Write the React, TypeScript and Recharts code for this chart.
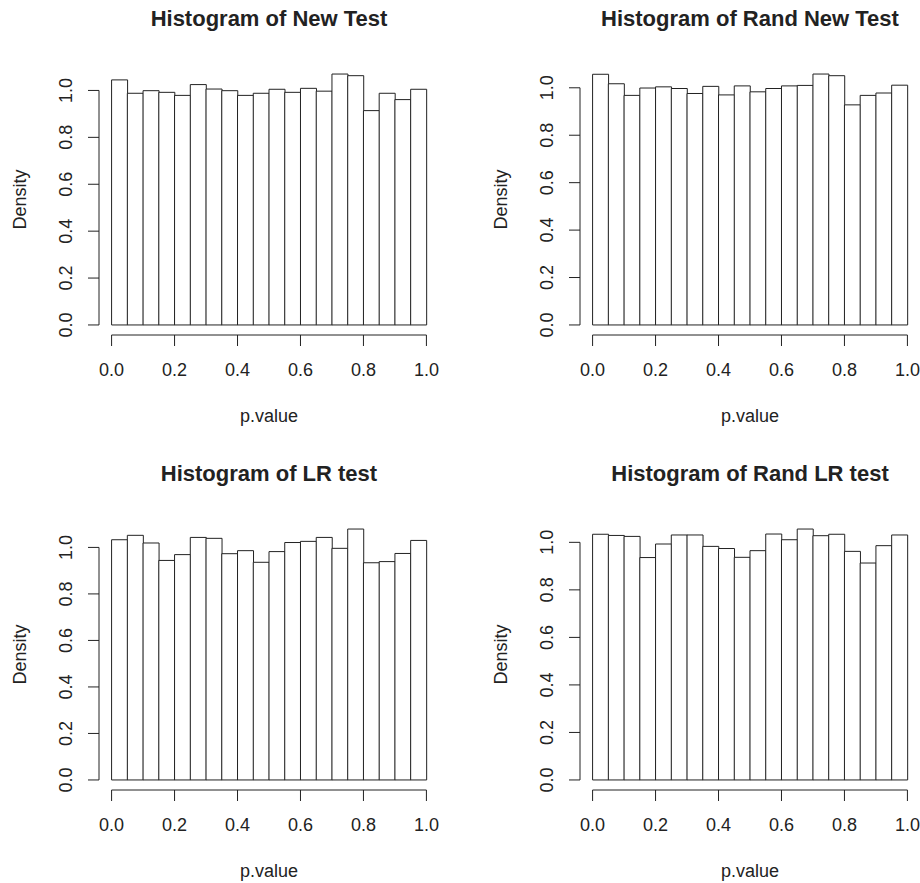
import { BarChart, Bar, XAxis, YAxis, ReferenceLine } from 'recharts';

// histogram bins (left edges, width 0.05)
const binStarts = [0, 0.05, 0.1, 0.15, 0.2, 0.25, 0.3, 0.35, 0.4, 0.45, 0.5, 0.55, 0.6, 0.65, 0.7, 0.75, 0.8, 0.85, 0.9, 0.95];
const binWidth = 0.05;
const xTicks = [0, 0.2, 0.4, 0.6, 0.8, 1];
const yTicks = [0, 0.2, 0.4, 0.6, 0.8, 1];

const newTest = [1.045, 0.988, 0.999, 0.992, 0.979, 1.025, 1.006, 0.999, 0.979, 0.988, 1.005, 0.992, 1.009, 0.997, 1.07, 1.063, 0.914, 0.988, 0.961, 1.005];
const randNewTest = [1.057, 1.017, 0.968, 0.999, 1.004, 0.997, 0.976, 1.006, 0.97, 1.008, 0.983, 0.997, 1.008, 1.01, 1.058, 1.051, 0.928, 0.968, 0.978, 1.011];
const lrTest = [1.033, 1.052, 1.019, 0.944, 0.969, 1.043, 1.039, 0.973, 0.986, 0.936, 0.982, 1.021, 1.026, 1.043, 0.996, 1.079, 0.934, 0.939, 0.974, 1.03];
const randLrTest = [1.034, 1.029, 1.025, 0.936, 0.993, 1.031, 1.031, 0.983, 0.974, 0.937, 0.965, 1.035, 1.011, 1.056, 1.028, 1.034, 0.962, 0.913, 0.986, 1.031];

const panels = [
  { title: 'Histogram of New Test', values: newTest },
  { title: 'Histogram of Rand New Test', values: randNewTest },
  { title: 'Histogram of LR test', values: lrTest },
  { title: 'Histogram of Rand LR test', values: randLrTest },
];

const W = 481;
const H = 455;
const M_TOP = 64;
const M_RIGHT = 42;
const Y_W = 99;
const X_H = 120;
const PLOT_W = W - M_RIGHT - Y_W;
const PAD = (PLOT_W * 0.04) / 1.08;
const MID_X = Y_W + PLOT_W / 2;
const MID_Y = M_TOP + (H - X_H - M_TOP) / 2;

const INK = '#222';
const FONT = '"Liberation Sans", Arial, Helvetica, sans-serif';

function XTick(props: any) {
  const { x, y, payload } = props;
  return (
    <text x={x} y={y + 28} textAnchor="middle" fontSize={18} fill={INK} fontFamily={FONT}>
      {Number(payload.value).toFixed(1)}
    </text>
  );
}

function YTick(props: any) {
  const { x, y, payload } = props;
  const tx = x - 14;
  return (
    <text x={tx} y={y} transform={`rotate(-90 ${tx} ${y})`} textAnchor="middle" fontSize={18} fill={INK} fontFamily={FONT}>
      {Number(payload.value).toFixed(1)}
    </text>
  );
}

function Histogram({ title, values }: { title: string; values: number[] }) {
  const data = binStarts.map((b, i) => ({ bin: String(b), mid: b + binWidth / 2, density: values[i] }));
  const top = Math.max(...values);
  const yMin = -0.04 * top;
  return (
    <div style={{ position: 'relative', width: W, height: H }}>
      <BarChart
        width={W}
        height={H}
        data={data}
        margin={{ top: M_TOP, right: M_RIGHT, left: 0, bottom: 0 }}
        barCategoryGap={0}
        barGap={0}
      >
        <XAxis
          xAxisId={0}
          type="number"
          dataKey="mid"
          domain={[-0.04, 1.04]}
          allowDataOverflow
          ticks={xTicks}
          axisLine={false}
          tickLine={{ stroke: INK }}
          tickSize={11}
          tick={<XTick />}
          height={X_H}
        />
        <XAxis xAxisId="bins" type="category" dataKey="bin" hide padding={{ left: PAD, right: PAD }} />
        <YAxis
          type="number"
          domain={[yMin, 1.04 * top]}
          allowDataOverflow
          ticks={yTicks}
          axisLine={false}
          tickLine={{ stroke: INK }}
          tickSize={11}
          tick={<YTick />}
          width={Y_W}
        />
        <Bar xAxisId="bins" dataKey="density" fill="#fff" stroke={INK} strokeWidth={1} isAnimationActive={false} />
        <ReferenceLine xAxisId={0} segment={[{ x: -0.04, y: 0 }, { x: -0.04, y: 1 }]} stroke={INK} ifOverflow="visible" />
        <ReferenceLine xAxisId={0} segment={[{ x: 0, y: yMin }, { x: 1, y: yMin }]} stroke={INK} ifOverflow="visible" />
      </BarChart>
      <svg width={W} height={H} style={{ position: 'absolute', left: 0, top: 0, pointerEvents: 'none' }}>
        <text x={MID_X} y={26} textAnchor="middle" fontSize={22} fontWeight="bold" fill={INK} fontFamily={FONT}>
          {title}
        </text>
        <text x={MID_X} y={422} textAnchor="middle" fontSize={18} fill={INK} fontFamily={FONT}>
          p.value
        </text>
        <text x={26} y={MID_Y} transform={`rotate(-90 26 ${MID_Y})`} textAnchor="middle" fontSize={18} fill={INK} fontFamily={FONT}>
          Density
        </text>
      </svg>
    </div>
  );
}

export default function App() {
  return (
    <div style={{ position: 'absolute', left: 0, top: 0, width: 920, height: 883, overflow: 'hidden', background: '#fff' }}>
      {panels.map((p, i) => (
        <div key={p.title} style={{ position: 'absolute', left: (i % 2) * W, top: Math.floor(i / 2) * H }}>
          <Histogram title={p.title} values={p.values} />
        </div>
      ))}
    </div>
  );
}
